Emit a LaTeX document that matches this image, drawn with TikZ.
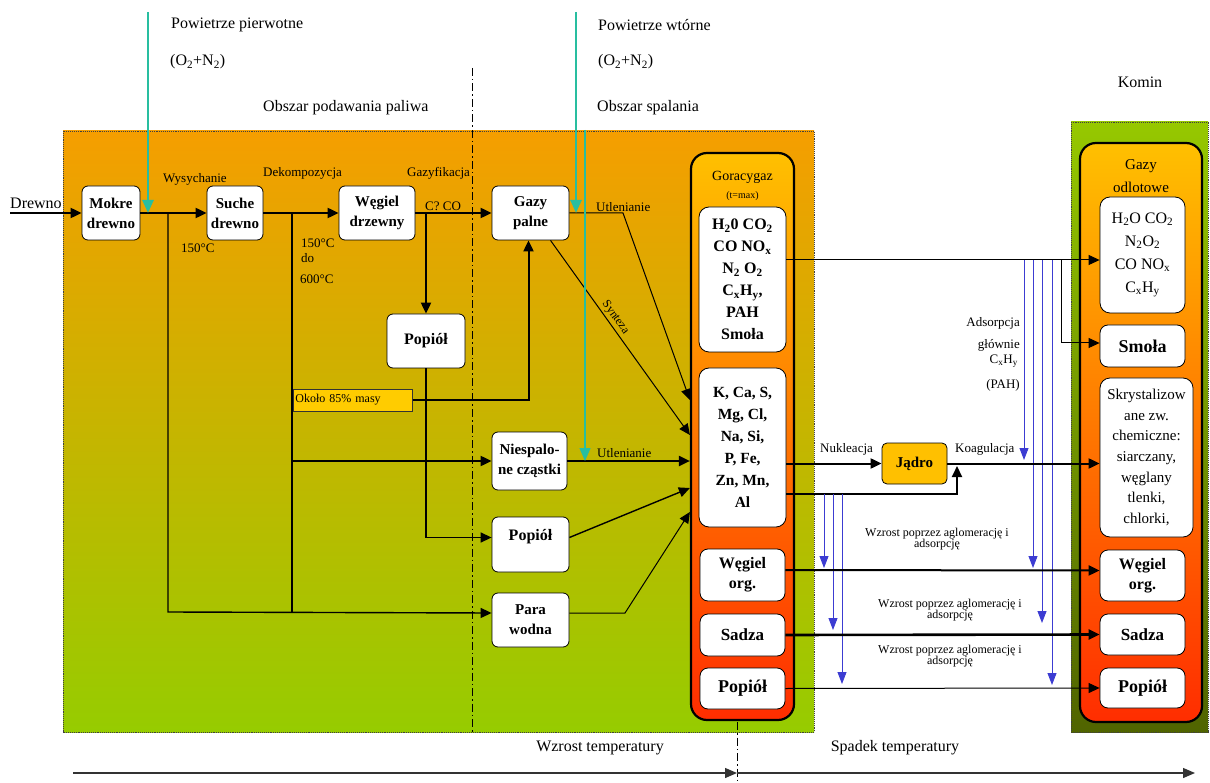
\documentclass[tikz,border=0pt]{standalone}
\usepackage{fontspec}
\setmainfont{Liberation Serif}
\usetikzlibrary{arrows.meta,calc}
\newcommand{\sbs}[1]{\textsubscript{#1}}
\definecolor{pnlTop}{RGB}{245,158,0}
\definecolor{pnlMid}{RGB}{215,176,0}
\definecolor{pnlBot}{RGB}{150,204,0}
\definecolor{kTop}{RGB}{150,200,0}
\definecolor{kBot}{RGB}{80,100,0}
\definecolor{cTop}{RGB}{255,192,0}
\definecolor{cMid}{RGB}{255,140,0}
\definecolor{cBot}{RGB}{255,45,0}
\definecolor{airc}{RGB}{40,190,160}
\definecolor{bluec}{RGB}{60,60,210}
\definecolor{goldc}{RGB}{255,192,0}
\definecolor{okc}{RGB}{255,204,0}
\tikzset{
  box/.style={draw=black, line width=0.8pt, fill=white, rounded corners=6pt, align=center, inner sep=1pt, font=\fontsize{15}{20}\selectfont\bfseries},
  ibox/.style={box, rounded corners=10pt, font=\fontsize{16}{22}\selectfont\bfseries},
  kbox/.style={box, rounded corners=10pt, font=\fontsize{15.5}{21.5}\selectfont},
  cont/.style={draw=black, line width=2.2pt, rounded corners=16pt, top color=cTop, middle color=cMid, bottom color=cBot, inner sep=0pt},
  lab/.style={inner sep=0pt, font=\fontsize{13}{15}\selectfont},
  big/.style={inner sep=0pt, font=\fontsize{16}{20}\selectfont},
  sml/.style={inner sep=0pt, align=center, font=\fontsize{12}{11}\selectfont},
  tipA/.style={-{Triangle[length=11pt,width=10pt]}},
  thk/.style={tipA, line width=2pt},
  mid/.style={tipA, line width=1.4pt},
  thn/.style={tipA, line width=1pt},
  bl/.style={-{Triangle[length=12pt,width=9pt]}, line width=0.9pt, draw=bluec},
  air/.style={draw=airc, -{Triangle[length=13pt,width=11pt]}},
  panel/.style={draw=black!75, densely dotted, line width=0.9pt},
  dd/.style={dash pattern=on 8pt off 3pt on 1.5pt off 3pt, line width=1pt}
}
\begin{document}
\begin{tikzpicture}[x=1pt,y=-1pt]
\useasboundingbox (0,0) rectangle (1210,783);
% panels
\shadedraw[panel, top color=pnlTop, middle color=pnlMid, bottom color=pnlBot] (63,131) rectangle (814,732);
\shadedraw[panel, top color=kTop, bottom color=kBot] (1071,122) rectangle (1208,732);
% dash-dot separators
\coordinate (d0) at (472,68); \coordinate (d1) at (472,732);
\coordinate (d2) at (737,722); \coordinate (d3) at (737,783);
\draw[dd] (d0) -- (d1);
\draw[dd] (d2) -- (d3);

% containers
\node[cont, minimum width=103pt, minimum height=567pt] (hot) at (742.5,436.5) {};
\node[cont, minimum width=122pt, minimum height=579pt] (kc) at (1141,432.5) {};

% texts top
\node[big, anchor=west] (pw1) at (171,25) {Powietrze pierwotne};
\node[big, anchor=west] (o2a) at (170,62) {(O\sbs{2}+N\sbs{2})};
\node[big, anchor=west] (pw2) at (598,25) {Powietrze wtórne};
\node[big, anchor=west] (o2b) at (598,62) {(O\sbs{2}+N\sbs{2})};
\node[big, anchor=west] (obs1) at (263,108) {Obszar podawania paliwa};
\node[big, anchor=west] (obs2) at (597,108) {Obszar spalania};
\node[big] (komin) at (1140,82) {Komin};
\node[big, anchor=west] (drewno) at (10,203) {Drewno};

% process labels
\node[lab, anchor=west] (wys) at (163,179) {Wysychanie};
\node[lab, anchor=west] (dek) at (263,173) {Dekompozycja};
\node[lab, anchor=west] (gzf) at (407,173) {Gazyfikacja};
\node[lab, anchor=west] (t1) at (181,248) {150°C};
\node[lab, anchor=west] (t2) at (301,243) {150°C};
\node[lab, anchor=west] (t3) at (301,258) {do};
\node[lab, anchor=west] (t4) at (300,279) {600°C};
\node[lab, anchor=west] (cco) at (425,206) {C? CO};
\node[lab, anchor=west] (utl1) at (596,207) {Utlenianie};
\node[lab, anchor=west] (utl2) at (597,453) {Utlenianie};
\node[lab, anchor=west] (nuk) at (820,449) {Nukleacja};
\node[lab, anchor=west] (koag) at (955,449) {Koagulacja};
\node[lab, anchor=east] (ad1) at (1020,323) {Adsorpcja};
\node[lab, anchor=east] (ad2) at (1020,345) {głównie};
\node[lab, anchor=east] (ad3) at (1018,361) {C\sbs{x}H\sbs{y}};
\node[lab, anchor=east] (ad4) at (1020,385) {(PAH)};
\node[sml] (wz1) at (937,539) {Wzrost poprzez aglomerację i\\adsorpcję};
\node[sml] (wz2) at (950,610) {Wzrost poprzez aglomerację i\\adsorpcję};
\node[sml] (wz3) at (950,656) {Wzrost poprzez aglomerację i\\adsorpcję};
\node[big] (wt) at (600,748) {Wzrost temperatury};
\node[big] (sp) at (895,748) {Spadek temperatury};

% left boxes
\node[box, minimum width=58pt, minimum height=54pt] (mokre) at (111,213) {Mokre\\drewno};
\node[box, minimum width=56pt, minimum height=54pt] (suche) at (235,213) {Suche\\drewno};
\node[box, minimum width=76pt, minimum height=54pt] (wegiel) at (377,213) {Węgiel\\drzewny};
\node[box, minimum width=77pt, minimum height=54pt] (gazy) at (530.5,213) {Gazy\\palne};
\node[box, minimum width=78pt, minimum height=54pt, font=\fontsize{16}{20}\selectfont\bfseries] (pop1) at (426,341) {Popiół};
\node[draw=black!80, line width=0.7pt, fill=okc, minimum width=119pt, minimum height=22pt, inner sep=2pt, anchor=west, text width=115pt, align=left, font=\fontsize{12}{14}\selectfont] (okolo) at (293,400) {Około 85\% masy};
\node[box, minimum width=75pt, minimum height=58pt] (niesp) at (529.5,461) {Niespalo-\\ne cząstki};
\node[box, minimum width=77pt, minimum height=55pt, font=\fontsize{16}{20}\selectfont\bfseries] (pop2) at (530.5,544.5) {Popiół\\\mbox{}};
\node[box, minimum width=77pt, minimum height=54pt] (para) at (530.5,620) {Para\\wodna};

% hot gas container content
\node[inner sep=0pt, font=\fontsize{14}{16}\selectfont] (gg) at (742.5,177) {Goracygaz};
\node[inner sep=0pt, font=\fontsize{10}{12}\selectfont] (tmax) at (742.5,196) {(t=max)};
\node[ibox, minimum width=87pt, minimum height=145pt] (h2o) at (742.5,279.5) {H\sbs{2}0 CO\sbs{2}\\CO NO\sbs{x}\\N\sbs{2} O\sbs{2}\\C\sbs{x}H\sbs{y},\\PAH\\Smoła};
\node[ibox, minimum width=87pt, minimum height=159pt, font=\fontsize{15.5}{22}\selectfont\bfseries] (kca) at (742.5,447.5) {K, Ca, S,\\Mg, Cl,\\Na, Si,\\P, Fe,\\Zn, Mn,\\Al};
\node[box, rounded corners=8pt, minimum width=85pt, minimum height=52pt, font=\fontsize{16}{20}\selectfont\bfseries] (worg) at (742.5,575) {Węgiel\\org.};
\node[box, rounded corners=8pt, minimum width=85pt, minimum height=42pt, font=\fontsize{17}{20}\selectfont\bfseries] (sadza) at (742.5,635) {Sadza};
\node[box, rounded corners=8pt, minimum width=85pt, minimum height=41pt, font=\fontsize{18}{20}\selectfont\bfseries] (pop3) at (742.5,688.5) {Popiół};

% Komin content
\node[inner sep=0pt, align=center, font=\fontsize{15}{23}\selectfont] (godl) at (1141,176) {Gazy\\odlotowe};
\node[kbox, minimum width=85pt, minimum height=116pt, font=\fontsize{16}{23}\selectfont] (kgas) at (1142.5,255) {H\sbs{2}O CO\sbs{2}\\N\sbs{2}O\sbs{2}\\CO NO\sbs{x}\\C\sbs{x}H\sbs{y}};
\node[box, rounded corners=8pt, minimum width=85pt, minimum height=42pt, font=\fontsize{18}{20}\selectfont\bfseries] (ksmola) at (1142.5,346) {Smoła};
\node[kbox, minimum width=93pt, minimum height=159pt, font=\fontsize{15}{20.7}\selectfont] (kskr) at (1146.5,457.5) {Skrystalizow\\ane zw.\\chemiczne:\\siarczany,\\węglany\\tlenki,\\chlorki,};
\node[box, rounded corners=8pt, minimum width=85pt, minimum height=51pt, font=\fontsize{16}{20}\selectfont\bfseries] (kworg) at (1142.5,575.5) {Węgiel\\org.};
\node[box, rounded corners=8pt, minimum width=85pt, minimum height=41pt, font=\fontsize{17}{20}\selectfont\bfseries] (ksadza) at (1142.5,634.5) {Sadza};
\node[box, rounded corners=8pt, minimum width=85pt, minimum height=40pt, font=\fontsize{18}{20}\selectfont\bfseries] (kpop) at (1142.5,688) {Popiół};

\node[draw=black, line width=0.8pt, fill=goldc, rounded corners=5pt, minimum width=65pt, minimum height=41pt, font=\fontsize{15}{18}\selectfont\bfseries] (jadro) at (914.5,463.5) {Jądro};

% ---- connectors ----
\coordinate (dw) at (10,213);
\draw[thk] (dw) -- (mokre);
\draw[thk] (mokre) -- (suche);
\draw[thk] (suche) -- (wegiel);
\draw[thk] (wegiel) -- (gazy);

\coordinate (j1) at (168,213); \coordinate (j1b) at (168,612);
\coordinate (j2) at (292,213); \coordinate (j2b) at (292,612);
\coordinate (j3) at (426,213);
\draw[mid] (j1) -- (j1b) -- ([yshift=7pt]para.west);
\draw[line width=1.8pt] (j2) -- (j2b);
\draw[thk] (j2 |- niesp.west) -- (niesp.west);
\draw[thk] (j3) -- (pop1.north);
\draw[mid] (pop1.south) |- ([yshift=7pt]pop2.west);
\draw[thk] (okolo.east) -| ([xshift=-2pt]gazy.south);

\coordinate (g1) at (623,213);
\draw[thn] (gazy.east) -- (g1) -- (hot.west |- 0,400);
\draw[thn] ([xshift=20pt]gazy.south) -- node[inner sep=0pt, font=\fontsize{12}{14}\selectfont, sloped, above=2pt, pos=0.42] (syn) {Synteza} (hot.west |- 0,435);
\draw[thk] (niesp.east) -- (hot.west |- niesp.east);
\draw[mid] ([yshift=7pt]pop2.east) -- (hot.west |- 0,488);
\coordinate (p1) at (625,613);
\draw[thn] ([yshift=7pt]para.east) -- (p1) -- (hot.west |- 0,512);

% air
\coordinate (a1) at (148,12); \coordinate (a1e) at (148,213);
\coordinate (a2) at (576,12); \coordinate (a2e) at (576,213);
\coordinate (a3) at (585,130); \coordinate (a3e) at (585,461);
\draw[air, line width=2.5pt] (a1) -- (a1e);
\draw[air, line width=2.5pt] (a2) -- (a2e);
\draw[air, line width=1.2pt] (a3) -- (a3e);

% hot gas to chimney
\draw[thn] ([yshift=19.5pt]h2o.east) -- (kgas.west |- 0,260);
\coordinate (s1) at (1061,260);
\draw[thn] (s1) |- ([yshift=3pt]ksmola.west);
\foreach \xx/\ye [count=\i] in {1024/460,1033/568,1042/623,1052/685}{
  \coordinate (bs\i) at (\xx,260); \coordinate (be\i) at (\xx,\ye);
  \draw[bl] (bs\i) -- (be\i);
}
\draw[thk] (kca.east |- jadro.west) -- (jadro.west);
\coordinate (kb) at (957,494); \coordinate (kt) at (957,466);
\draw[thk] (kca.east |- kb) -- (kb) -- (kt);
\foreach \xx/\ye [count=\i] in {824/568,833/630,842/684}{
  \coordinate (cs\i) at (\xx,494); \coordinate (ce\i) at (\xx,\ye);
  \draw[bl] (cs\i) -- (ce\i);
}
\draw[thk] (jadro.east) -- (kskr.west |- jadro.east);
\draw[thk] ([yshift=5pt]worg.east) -- ([yshift=5pt]kworg.west);
\draw[tipA, line width=2.6pt] (sadza.east) -- (ksadza.west);
\draw[thn] (pop3.east) -- (kpop.west);

% bottom temperature arrows
\coordinate (b0) at (73,773); \coordinate (b1) at (737,773); \coordinate (b2) at (1195,773);
\draw[line width=1.3pt, draw=black!80, -{Triangle[length=12pt,width=10pt]}] (b0) -- (b1);
\draw[line width=1.3pt, draw=black!80, -{Triangle[length=12pt,width=10pt]}] (b1) -- (b2);
\end{tikzpicture}
\end{document}
